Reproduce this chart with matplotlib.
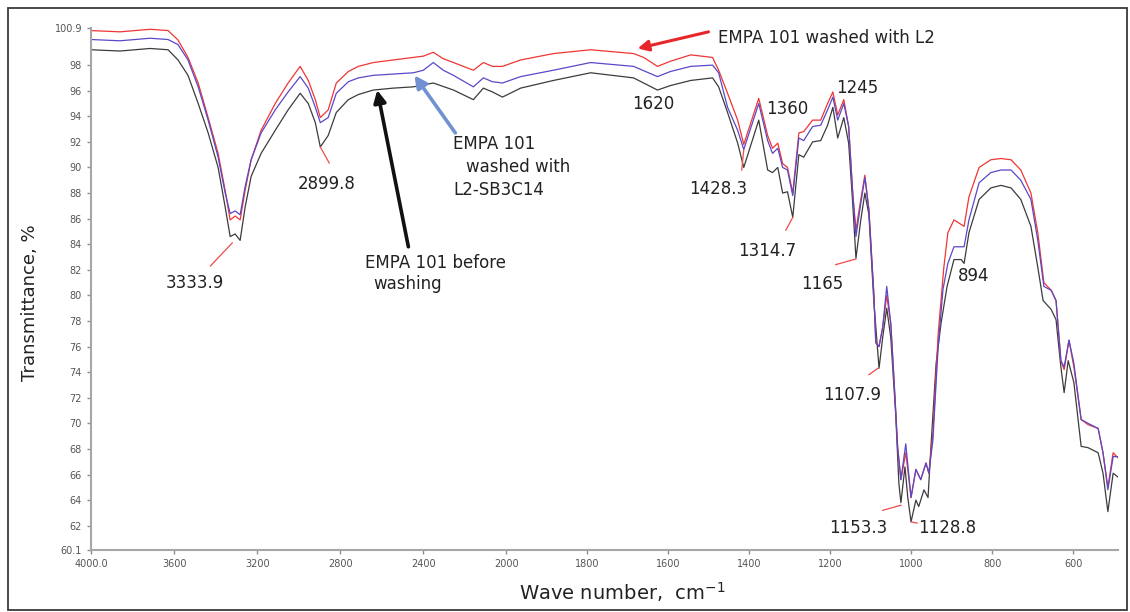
import numpy as np
import matplotlib
matplotlib.use('Agg')
import matplotlib.pyplot as plt
from matplotlib.patches import Rectangle

# FTIR spectra (wave number in cm-1, transmittance in %)
wn_before = [4000, 3860, 3716, 3629, 3581, 3533, 3484, 3436, 3388, 3354, 3330, 3306, 3282, 3258,
             3229, 3181, 3113, 3051, 2993, 2954, 2920, 2896, 2858, 2819, 2761, 2713, 2641, 2545,
             2448, 2352, 2255, 2159, 2111, 2067, 2019, 1965, 1884, 1792, 1686, 1627, 1595, 1545,
             1491, 1476, 1454, 1429, 1414, 1377, 1355, 1343, 1330, 1318, 1306, 1293, 1278, 1266,
             1244, 1224, 1207, 1194, 1182, 1167, 1155, 1145, 1137, 1125, 1115, 1105, 1093, 1080,
             1071, 1061, 1051, 1039, 1031, 1026, 1016, 1009, 1001, 989, 982, 969, 959, 952, 939,
             927, 912, 895, 877, 870, 858, 833, 804, 779, 754, 730, 705, 688, 675, 655, 643, 631,
             623, 613, 599, 581, 564, 539, 527, 515, 502, 490]
t_before = [99.2, 99.1, 99.3, 99.2, 98.4, 97.2, 95.0, 92.7, 90.0, 86.9, 84.6, 84.8, 84.3, 86.9,
            89.3, 91.1, 92.9, 94.5, 95.8, 95.0, 93.5, 91.6, 92.5, 94.3, 95.3, 95.7, 96.05, 96.2,
            96.3, 96.6, 96.05, 95.3, 96.2, 95.9, 95.5, 96.2, 96.8, 97.4, 97.0, 96.05, 96.4, 96.8,
            97.0, 96.3, 94.3, 91.9, 90.0, 93.7, 89.8, 89.6, 90.0, 88.0, 88.1, 86.1, 91.0, 90.8,
            92.0, 92.1, 93.3, 94.7, 92.3, 93.9, 91.9, 87.2, 82.9, 85.9, 88.0, 86.3, 79.6, 74.3,
            76.7, 79.0, 76.7, 70.8, 65.3, 63.8, 66.6, 64.2, 62.3, 64.0, 63.5, 64.8, 64.2, 68.1, 74.7,
            77.8, 80.7, 82.8, 82.8, 82.5, 84.9, 87.5, 88.4, 88.6, 88.4, 87.5, 85.4, 82.2, 79.6, 78.9,
            78.1, 74.4, 72.4, 74.9, 73.2, 68.2, 68.1, 67.7, 66.1, 63.1, 66.1, 65.8]

wn_sb = [4000, 3860, 3716, 3629, 3581, 3533, 3484, 3436, 3388, 3354, 3330, 3306, 3282, 3258,
         3229, 3181, 3113, 3051, 2993, 2954, 2920, 2896, 2858, 2819, 2761, 2713, 2641, 2545,
         2448, 2400, 2352, 2304, 2255, 2159, 2111, 2067, 2019, 1965, 1884, 1792, 1686, 1627,
         1595, 1545, 1491, 1476, 1454, 1429, 1414, 1377, 1355, 1343, 1330, 1318, 1306, 1293,
         1278, 1266, 1244, 1224, 1207, 1194, 1182, 1167, 1155, 1145, 1137, 1125, 1115, 1105,
         1093, 1088, 1080, 1071, 1061, 1051, 1043, 1034, 1026, 1014, 1001, 989, 977, 964, 957,
         947, 934, 922, 910, 895, 870, 858, 833, 804, 779, 754, 730, 705, 688, 673, 655, 643,
         631, 623, 611, 599, 581, 564, 539, 527, 515, 502, 490]
t_sb = [100.0, 99.9, 100.1, 100.0, 99.6, 98.4, 96.3, 93.7, 90.8, 88.0, 86.4, 86.6, 86.3, 88.5,
        90.6, 92.7, 94.5, 95.9, 97.1, 96.2, 94.7, 93.5, 93.9, 95.8, 96.7, 97.0, 97.2, 97.3,
        97.4, 97.6, 98.2, 97.6, 97.2, 96.3, 97.0, 96.7, 96.6, 97.1, 97.6, 98.2, 97.9, 97.1,
        97.5, 97.9, 98.0, 97.4, 94.7, 92.9, 91.4, 95.0, 92.1, 91.1, 91.5, 90.0, 89.8, 87.8,
        92.3, 92.1, 93.2, 93.3, 94.5, 95.5, 93.7, 95.0, 93.2, 88.0, 84.6, 87.2, 89.2, 86.7,
        80.2, 76.3, 76.0, 77.5, 80.7, 77.8, 73.4, 68.1, 65.6, 68.4, 64.2, 66.4, 65.6, 66.9, 66.1,
        68.7, 76.0, 80.5, 82.5, 83.8, 83.8, 85.9, 88.8, 89.6, 89.8, 89.8, 89.0, 87.5, 84.3, 80.7,
        80.4, 79.6, 74.9, 74.4, 76.5, 74.7, 70.3, 70.0, 69.6, 67.7, 64.8, 67.4, 67.4]

wn_l2 = [4000, 3860, 3716, 3629, 3581, 3533, 3484, 3436, 3388, 3354, 3330, 3306, 3282, 3258,
         3229, 3181, 3113, 3051, 2993, 2954, 2920, 2896, 2858, 2819, 2761, 2713, 2641, 2545,
         2448, 2400, 2352, 2304, 2255, 2159, 2111, 2067, 2019, 1965, 1884, 1792, 1686, 1661,
         1627, 1595, 1545, 1491, 1476, 1454, 1429, 1414, 1377, 1355, 1343, 1330, 1318, 1306,
         1293, 1278, 1266, 1244, 1224, 1207, 1194, 1182, 1167, 1155, 1145, 1137, 1125, 1115,
         1105, 1093, 1088, 1080, 1071, 1061, 1051, 1043, 1034, 1026, 1014, 1001, 989, 977, 964,
         957, 947, 934, 927, 920, 910, 895, 870, 858, 833, 804, 779, 754, 730, 705, 688, 673,
         655, 643, 631, 623, 611, 599, 581, 564, 539, 527, 515, 502, 490]
t_l2 = [100.7, 100.6, 100.8, 100.7, 99.96, 98.6, 96.6, 93.9, 91.1, 88.2, 85.9, 86.2, 85.9, 88.2,
        90.6, 92.9, 95.0, 96.6, 97.9, 96.8, 95.3, 93.9, 94.5, 96.6, 97.5, 97.9, 98.2, 98.4,
        98.6, 98.7, 99.0, 98.5, 98.2, 97.6, 98.2, 97.9, 97.9, 98.4, 98.9, 99.2, 98.9, 98.6,
        97.9, 98.3, 98.8, 98.6, 97.6, 95.8, 93.7, 91.8, 95.4, 92.5, 91.5, 91.9, 90.3, 90.0,
        88.0, 92.7, 92.8, 93.7, 93.7, 95.0, 95.9, 94.1, 95.3, 93.2, 88.0, 85.1, 87.5, 89.4,
        86.7, 80.2, 76.3, 76.0, 77.5, 80.0, 77.8, 73.4, 68.1, 65.6, 67.7, 64.2, 66.4, 65.6, 66.9,
        66.1, 69.2, 77.0, 79.6, 82.2, 84.9, 85.9, 85.4, 87.7, 90.0, 90.6, 90.7, 90.6, 89.8, 88.0,
        84.9, 81.0, 80.4, 79.6, 74.9, 74.2, 76.5, 74.4, 70.3, 69.9, 69.6, 67.7, 65.0, 67.7, 67.3]

x_ticks = [4000, 3600, 3200, 2800, 2400, 2000, 1800, 1600, 1400, 1200, 1000, 800, 600]
x_labels = ['4000.0', '3600', '3200', '2800', '2400', '2000', '1800', '1600', '1400',
            '1200', '1000', '800', '600']
y_ticks = [60.1] + list(range(62, 100, 2)) + [100.9]
y_labels = ['60.1'] + [str(v) for v in range(62, 100, 2)] + ['100.9']

# peak labels: text, x, y (data) and leader line end points
peaks = [('3333.9', 3639, 80.97), ('2899.8', 3007, 88.7), ('1620', 1689, 94.96),
         ('1428.3', 1550, 88.3), ('1360', 1360, 94.6), ('1245', 1187, 96.2),
         ('1314.7', 1429, 83.5), ('1165', 1273, 80.9), ('1107.9', 1219, 72.2),
         ('1153.3', 1204, 61.8), ('1128.8', 984, 61.8), ('894', 885, 81.5)]
leaders = [((3320, 84.1), (3425, 82.3)), ((2896, 91.6), (2853, 90.35)),
           ((1414, 91.4), (1419, 89.8)), ((1293, 86.1), (1310, 85.1)),
           ((1137, 82.85), (1187, 82.4)), ((1083, 74.3), (1105, 73.8)),
           ((1026, 63.6), (1071, 63.2)), ((1001, 62.3), (986, 62.2))]

# spectrometer style axis: 2x expansion below 2000 cm-1
K = 1.95
def fwd(w):
    w = np.asarray(w, dtype=float)
    return np.where(w >= 2000, w, 2000 - K * (2000 - w))
def inv(u):
    u = np.asarray(u, dtype=float)
    return np.where(u >= 2000, u, 2000 - (2000 - u) / K)

fig = plt.figure(figsize=(11.3, 6.12), dpi=100)
ax = fig.add_axes([91 / 1130, 62 / 612, 1027 / 1130, 522 / 612])
ax.set_xscale('function', functions=(fwd, inv))

ax.plot(wn_before, t_before, color='#3c3c3c', lw=0.9)
ax.plot(wn_l2, t_l2, color='#f03535', lw=0.9)
ax.plot(wn_sb, t_sb, color='#5a48c8', lw=0.9)

ax.set_xlim(4000, 490)
ax.set_ylim(60.1, 100.9)
ax.set_xticks(x_ticks)
ax.set_xticklabels(x_labels)
ax.set_yticks(y_ticks)
ax.set_yticklabels(y_labels)
ax.xaxis.set_minor_locator(matplotlib.ticker.NullLocator())
ax.tick_params(axis='both', colors='#8c8c8c', labelcolor='#555555', labelsize=7,
               length=3, width=1)
for s in ['top', 'right']:
    ax.spines[s].set_visible(False)
for s in ['left', 'bottom']:
    ax.spines[s].set_color('#a6a6a6')
    ax.spines[s].set_linewidth(1.5)

for txt, x, y in peaks:
    ax.text(x, y, txt, fontsize=12, color='#222222', ha='left', va='center')
for (a, b) in leaders:
    ax.plot([a[0], b[0]], [a[1], b[1]], color='#f04a4a', lw=0.9)

# arrows with their captions
ax.annotate('', xy=(1676, 99.3), xytext=(1501, 100.6),
            arrowprops=dict(arrowstyle='-|>', color='#e8262a', lw=2.2, mutation_scale=16,
                            shrinkA=0, shrinkB=0))
ax.text(1478, 100.1, 'EMPA 101 washed with L2', fontsize=12, color='#222222', va='center')

ax.annotate('', xy=(2443, 97.2), xytext=(2246, 92.7),
            arrowprops=dict(arrowstyle='-|>', color='#7191d0', lw=2.6, mutation_scale=18,
                            shrinkA=0, shrinkB=0))
ax.text(2255, 91.8, 'EMPA 101', fontsize=12, color='#222222', va='center')
ax.text(2193, 90.0, 'washed with', fontsize=12, color='#222222', va='center')
ax.text(2255, 88.2, 'L2-SB3C14', fontsize=12, color='#222222', va='center')

ax.annotate('', xy=(2622, 96.05), xytext=(2472, 83.8),
            arrowprops=dict(arrowstyle='-|>', color='#111111', lw=2.6, mutation_scale=18,
                            shrinkA=0, shrinkB=0))
ax.text(2680, 82.5, 'EMPA 101 before', fontsize=12, color='#222222', va='center')
ax.text(2641, 80.9, 'washing', fontsize=12, color='#222222', va='center')

fig.text(30 / 1130, 1 - 303 / 612, 'Transmittance, %', rotation=90, fontsize=13,
         ha='center', va='center', color='#222222')
fig.text(622 / 1130, 1 - 592 / 612, 'Wave number,  cm$^{-1}$', fontsize=14,
         ha='center', va='center', color='#222222')

fig.add_artist(Rectangle((7.5 / 1130, 2 / 612), 1119 / 1130, 602.5 / 612,
                         transform=fig.transFigure, fill=False, ec='#3a3a3a', lw=1.3))

fig.savefig('out.png', dpi=100)
